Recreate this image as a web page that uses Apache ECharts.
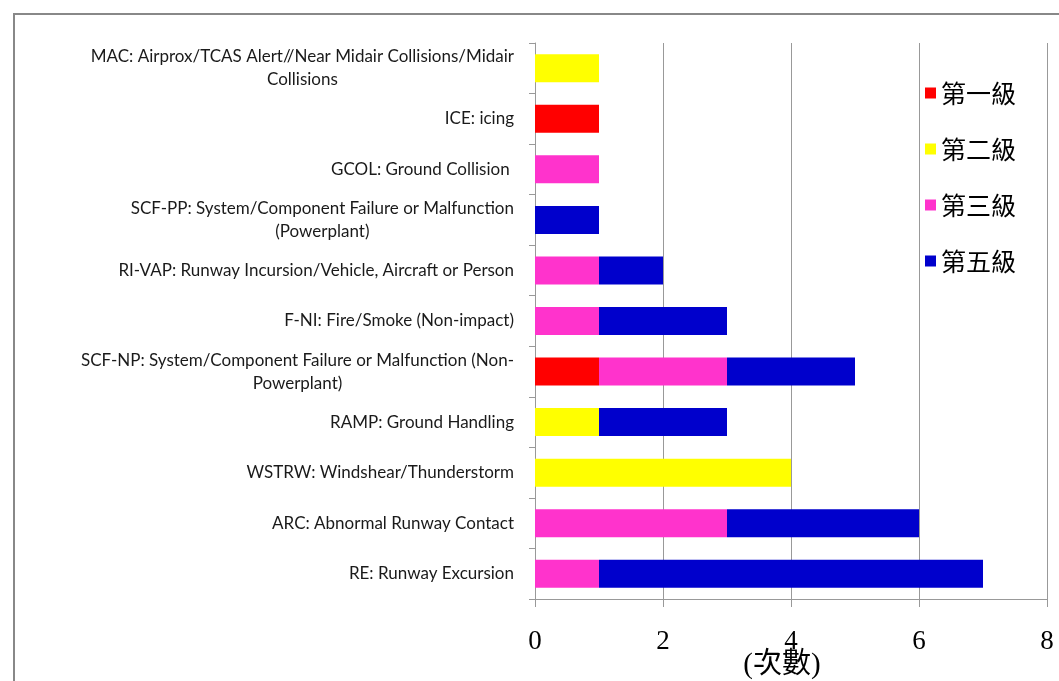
<!DOCTYPE html>
<html>
<head>
<meta charset="utf-8">
<script src="https://cdn.jsdelivr.net/npm/echarts@6/dist/echarts.min.js"></script>
<style>
html,body{margin:0;padding:0;background:#fff;}
#chart{width:1059px;height:681px;}
</style>
</head>
<body>
<div id="chart"></div>
<script>
// Categories listed top to bottom
var categories = [
  "MAC: Airprox/TCAS Alert//Near Midair Collisions/Midair\nCollisions",
  "ICE: icing",
  "GCOL: Ground Collision ",
  "SCF-PP: System/Component Failure or Malfunction\n(Powerplant)",
  "RI-VAP: Runway Incursion/Vehicle, Aircraft or Person",
  "F-NI: Fire/Smoke (Non-impact)",
  "SCF-NP: System/Component Failure or Malfunction (Non-\nPowerplant)",
  "RAMP: Ground Handling",
  "WSTRW: Windshear/Thunderstorm",
  "ARC: Abnormal Runway Contact",
  "RE: Runway Excursion"
];
var seriesNames = ["第一級", "第二級", "第三級", "第五級"];
var level1 = [0, 1, 0, 0, 0, 0, 1, 0, 0, 0, 0];
var level2 = [1, 0, 0, 0, 0, 0, 0, 1, 4, 0, 0];
var level3 = [0, 0, 1, 0, 1, 1, 2, 0, 0, 3, 1];
var level5 = [0, 0, 0, 1, 1, 2, 2, 2, 0, 3, 6];
var xTicks = [0, 2, 4, 6, 8];
var axisName = "(次數)";

var colors = ["#FF0000", "#FFFF00", "#FF33CC", "#0000CC"];
var values = [level1, level2, level3, level5];

var chart = echarts.init(document.getElementById('chart'), null, {renderer: 'canvas'});
var series = seriesNames.map(function (n, i) {
  return {
    name: n,
    type: 'bar',
    stack: 'total',
    barWidth: 28,
    itemStyle: {color: colors[i]},
    data: values[i]
  };
});

chart.setOption({
  animation: false,
  backgroundColor: '#ffffff',
  color: colors,
  graphic: [{
    type: 'rect',
    shape: {x: 14, y: 14, width: 1100, height: 700},
    style: {fill: 'none', stroke: '#888888', lineWidth: 2},
    silent: true
  }],
  grid: {left: 535, right: 12, top: 43, bottom: 82, containLabel: false, outerBoundsMode: 'none'},
  legend: {
    orient: 'vertical',
    left: 920,
    top: 74,
    itemWidth: 11,
    itemHeight: 11,
    itemGap: 28,
    icon: 'rect',
    textStyle: {fontFamily: 'Noto Sans CJK TC', fontSize: 25, lineHeight: 28, color: '#000'},
    data: seriesNames
  },
  xAxis: {
    type: 'value',
    min: xTicks[0],
    max: xTicks[xTicks.length - 1],
    interval: 2,
    name: axisName,
    nameLocation: 'middle',
    nameGap: 52,
    nameMoveOverlap: false,
    nameTextStyle: {fontFamily: 'Liberation Serif, Noto Sans CJK TC', fontSize: 29, color: '#000', padding: [0, 18, 0, 0]},
    axisLine: {show: true, lineStyle: {color: '#999999', width: 1}},
    axisTick: {show: true, length: 8, lineStyle: {color: '#999999'}},
    splitLine: {show: true, lineStyle: {color: '#999999', width: 1}},
    axisLabel: {
      margin: 29,
      fontFamily: 'Liberation Serif',
      fontSize: 27,
      color: '#000'
    }
  },
  yAxis: {
    type: 'category',
    inverse: true,
    data: categories,
    axisLine: {show: true, lineStyle: {color: '#999999', width: 1}},
    axisTick: {show: true, length: 6, lineStyle: {color: '#999999'}},
    axisLabel: {
      margin: 21,
      formatter: function (v) {
        return v.split('\n').map(function (l) { return '{c|' + l + '}'; }).join('\n');
      },
      rich: {
        c: {align: 'center', fontFamily: 'Lato', fontSize: 17, lineHeight: 23, color: '#1a1a1a'}
      }
    }
  },
  series: series
});
</script>
</body>
</html>
